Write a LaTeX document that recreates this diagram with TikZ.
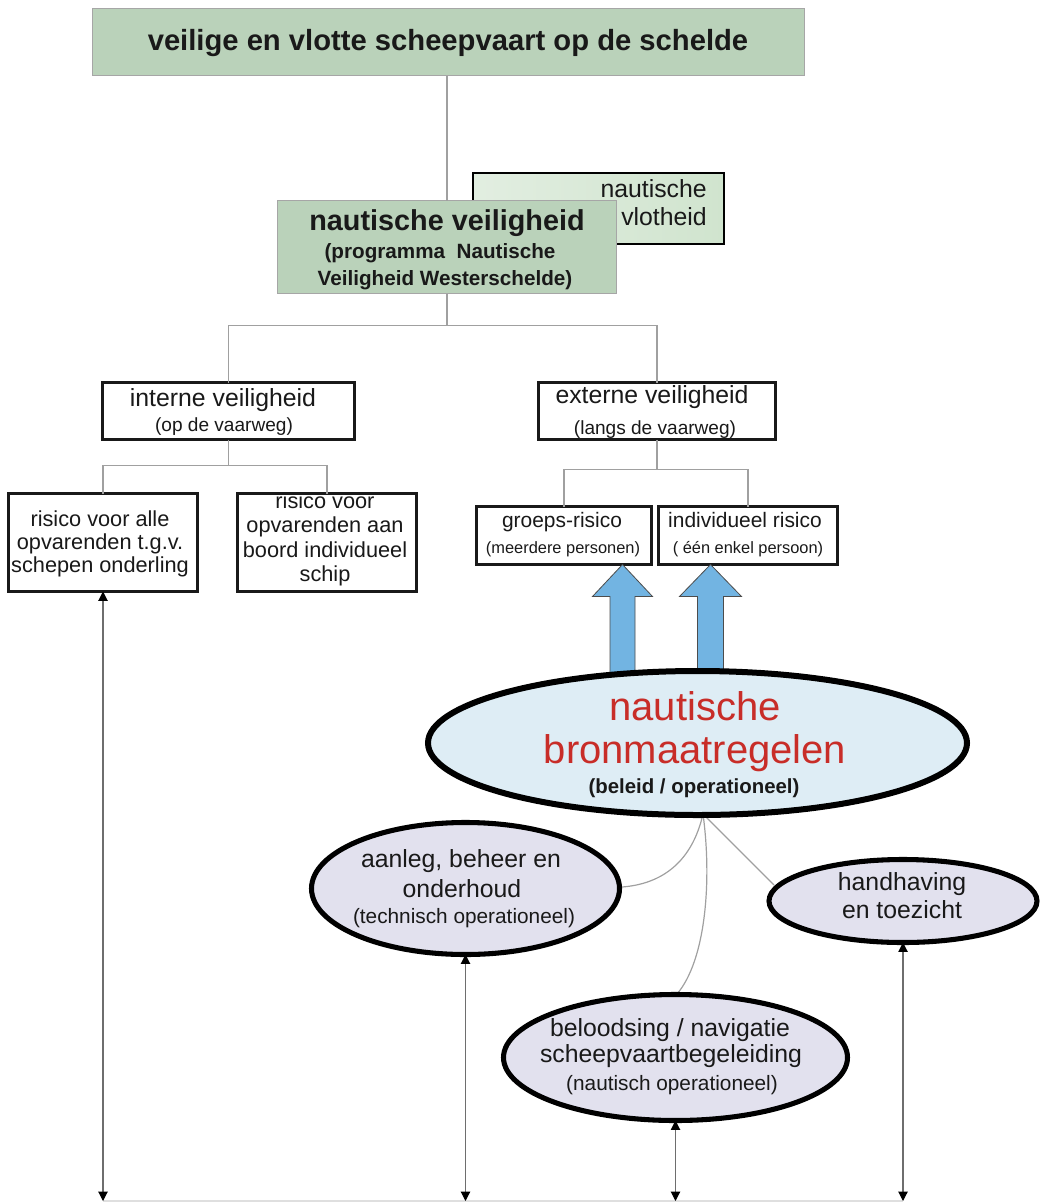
\documentclass[tikz,border=0pt]{standalone}
\usepackage{fontspec}
\setmainfont{Liberation Sans}
\usetikzlibrary{arrows.meta,calc,shapes.geometric}

\definecolor{sage}{RGB}{186,210,186}
\definecolor{sagelight}{RGB}{208,228,206}
\definecolor{sagepale}{RGB}{226,238,225}
\definecolor{skyfill}{RGB}{222,237,245}
\definecolor{lav}{RGB}{226,225,238}
\definecolor{arrblue}{RGB}{114,180,226}
\definecolor{redtxt}{RGB}{200,45,40}
\definecolor{ink}{RGB}{25,25,25}
\definecolor{wire}{RGB}{160,160,160}
\definecolor{stem}{RGB}{110,110,110}

% one pixel of the drawing grid
\newcommand\pxu{0.75pt}

\begin{document}
\begin{tikzpicture}[x=0.75pt,y=-0.75pt,
  shapebox/.style={inner sep=0pt, outer sep=0pt},
  greenbox/.style={shapebox, fill=sage, draw=gray!70, line width=1.1pt},
  whitebox/.style={shapebox, fill=white, draw=ink, line width=2.2pt},
  bigoval/.style={shapebox, ellipse, fill=skyfill, draw=black, line width=4.5pt},
  oval/.style={shapebox, ellipse, fill=lav, draw=black, line width=3.8pt},
  txt/.style={anchor=base, inner sep=0pt, text=ink},
  wireline/.style={draw=wire, line width=0.9pt},
  dblarrow/.style={draw=stem, line width=0.8pt,
    {Triangle[width=7pt,length=7pt,color=black]}-{Triangle[width=7pt,length=7pt,color=black]}},
  bluearrow/.style={fill=arrblue, draw=gray!60!black, line width=0.6pt, line join=miter},
  fHead/.style={font=\bfseries\fontsize{21.9}{24}\selectfont},
  fHeadSub/.style={font=\bfseries\fontsize{15.5}{18}\selectfont},
  fMain/.style={font=\fontsize{18.6}{21}\selectfont},
  fSub/.style={font=\fontsize{14.3}{16}\selectfont},
  fRisk/.style={font=\fontsize{16.3}{18}\selectfont},
  fSmall/.style={font=\fontsize{15.7}{18}\selectfont},
  fTiny/.style={font=\fontsize{12.3}{14}\selectfont},
  fRed/.style={font=\fontsize{30}{32}\selectfont, text=redtxt},
  fOvalSub/.style={font=\fontsize{15.6}{18}\selectfont},
]
\useasboundingbox (0,0) rectangle (1043,1203);

% ---------- shapes: boxes ----------
\node[greenbox, minimum width=712*\pxu, minimum height=67*\pxu] (top) at (448.5,42) {};
\node[shapebox, draw=black, line width=1.6pt, left color=sagepale, right color=sagelight,
      minimum width=251*\pxu, minimum height=71*\pxu] (vlot) at (598.5,208.5) {};
\node[greenbox, minimum width=339*\pxu, minimum height=93*\pxu] (veil) at (447,247) {};

\node[whitebox, minimum width=252*\pxu, minimum height=57*\pxu] (intern) at (228.5,411) {};
\node[whitebox, minimum width=237*\pxu, minimum height=57*\pxu] (extern) at (657,411) {};
\node[whitebox, minimum width=189*\pxu, minimum height=98*\pxu] (risA) at (103,542.5) {};
\node[whitebox, minimum width=179*\pxu, minimum height=98*\pxu] (risB) at (327,542.5) {};
\node[whitebox, minimum width=175*\pxu, minimum height=58*\pxu] (groeps) at (564,535.5) {};
\node[whitebox, minimum width=179*\pxu, minimum height=58*\pxu] (indiv) at (748,535.5) {};

% ---------- tree connectors ----------
\draw[wireline] (veil.north |- top.south) -- (veil.north);
\coordinate (j1) at ($(veil.south)+(0,32)$);
\draw[wireline] (veil.south) -- (j1);
\draw[wireline] (intern.north) |- (j1) -| (extern.north);
\coordinate (j2) at ($(intern.south)+(0,26)$);
\draw[wireline] (intern.south) -- (j2);
\draw[wireline] (risA.north) |- (j2) -| (risB.north);
\coordinate (j3) at ($(extern.south)+(0,30)$);
\draw[wireline] (extern.south) -- (j3);
\draw[wireline] (groeps.north) |- (j3) -| (indiv.north);

% ---------- ovals (placed first so connectors can start inside them) ----------
\coordinate (bronC) at (697.5,743);
\coordinate (hub) at (703,814);
\coordinate (floor) at (0,1201);

% blue arrows from the measures up to the risk boxes
\coordinate (b1x) at ($(bronC)+(-75,0)$);
\coordinate (b1) at (b1x |- groeps.south);
\coordinate (b2x) at ($(bronC)+(13,0)$);
\coordinate (b2) at (b2x |- indiv.south);
\filldraw[bluearrow] (b1) -- ++(30,32) -- ++(-17.5,0) -- ++(0,85) -- ++(-25,0)
  -- ++(0,-85) -- ++(-17.5,0) -- cycle;
\filldraw[bluearrow] (b2) -- ++(31,32) -- ++(-18,0) -- ++(0,85) -- ++(-26,0)
  -- ++(0,-85) -- ++(-18,0) -- cycle;

% lines from the central oval to the three measures
\draw[wireline] (hub) .. controls (692,862) and (662,884) .. (622,887);
\draw[wireline] (hub) .. controls (712,880) and (706,960) .. (677,994);
\draw[wireline] (hub) -- (774,885);

\node[bigoval, minimum width=539*\pxu, minimum height=144*\pxu] (bron) at (bronC) {};
\node[oval, minimum width=308*\pxu, minimum height=132*\pxu] (aanleg) at (465.5,888.5) {};
\node[oval, minimum width=268*\pxu, minimum height=83*\pxu] (hand) at (903,901) {};
\node[oval, minimum width=344*\pxu, minimum height=126*\pxu] (belo) at (675.5,1057.5) {};

% ---------- links down to the base line ----------
\draw[gray!25, line width=1.2pt] (risA.south |- floor) -- (hand.south |- floor);
\draw[dblarrow] (risA.south) -- (risA.south |- floor);
\draw[dblarrow] (aanleg.south) -- (aanleg.south |- floor);
\draw[dblarrow] (belo.south) -- (belo.south |- floor);
\draw[dblarrow] (hand.south) -- (hand.south |- floor);

% ---------- texts ----------
\node[txt, fHead] (tTop) at (448,50) {veilige en vlotte scheepvaart op de schelde};

\node[txt, fMain, anchor=base east] (tVlot1) at (707,197) {nautische};
\node[txt, fMain, anchor=base east] (tVlot2) at (707,225) {vlotheid};

\node[txt, font=\bfseries\fontsize{21.6}{24}\selectfont] (tVeil1) at (447,230) {nautische veiligheid};
\node[txt, fHeadSub] (tVeil2) at (440,258) {(programma~ Nautische};
\node[txt, fHeadSub] (tVeil3) at (445,285) {Veiligheid Westerschelde)};

\node[txt, fMain] (tInt1) at (223,406) {interne veiligheid};
\node[txt, fSub] (tInt2) at (224,431) {(op de vaarweg)};
\node[txt, fMain] (tExt1) at (652,403) {externe veiligheid};
\node[txt, fSub] (tExt2) at (655,434) {(langs de vaarweg)};

\node[txt, fRisk] (tRA1) at (100,526) {risico voor alle};
\node[txt, fRisk] (tRA2) at (100,549) {opvarenden t.g.v.};
\node[txt, fRisk] (tRA3) at (100,572) {schepen onderling};

\node[txt, fRisk] (tRB1) at (325,508) {risico voor};
\node[txt, fRisk] (tRB2) at (325,532.5) {opvarenden aan};
\node[txt, fRisk] (tRB3) at (325,557) {boord individueel};
\node[txt, fRisk] (tRB4) at (325,581.5) {schip};

\node[txt, fSmall] (tGr1) at (562,527) {groeps-risico};
\node[txt, fTiny] (tGr2) at (563,553) {(meerdere personen)};
\node[txt, fSmall] (tIn1) at (745,527) {individueel risico};
\node[txt, fTiny] (tIn2) at (748,553) {( één enkel persoon)};

\node[txt, fRed] (tBr1) at (695,720) {nautische};
\node[txt, fRed] (tBr2) at (695,763) {bronmaatregelen};
\node[txt, font=\bfseries\fontsize{15.3}{18}\selectfont] (tBr3) at (694,793) {(beleid / operationeel)};

\node[txt, fMain] (tAa1) at (461,867) {aanleg, beheer en};
\node[txt, fMain] (tAa2) at (462,897) {onderhoud};
\node[txt, fOvalSub] (tAa3) at (464,923) {(technisch operationeel)};

\node[txt, fMain] (tHa1) at (902,890) {handhaving};
\node[txt, fMain] (tHa2) at (902,918) {en toezicht};

\node[txt, fMain] (tBe1) at (670,1036) {beloodsing / navigatie};
\node[txt, fMain] (tBe2) at (671,1062) {scheepvaartbegeleiding};
\node[txt, fOvalSub] (tBe3) at (672,1090) {(nautisch operationeel)};

\end{tikzpicture}
\end{document}
